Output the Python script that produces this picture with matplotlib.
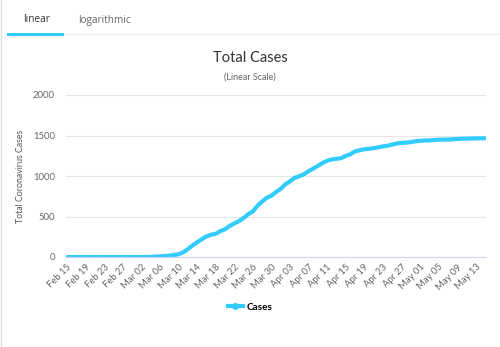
import matplotlib
matplotlib.use("Agg")
import matplotlib.pyplot as plt
from matplotlib.lines import Line2D
import pandas as pd

START_DATE = "2020-02-15"
END_DATE = "2020-05-15"

# total cases per day, Feb 15 .. May 15
cases_feb = [0] * 15
cases_mar = [0, 0, 0, 1, 6, 8, 12, 16, 25, 34, 57, 96, 141, 181, 219, 253,
             275, 286, 319, 341, 383, 414, 442, 480, 528, 562, 632, 684, 730,
             756, 802]
cases_apr = [841, 897, 934, 977, 997, 1021, 1059, 1091, 1124, 1160, 1188,
             1205, 1212, 1220, 1248, 1268, 1304, 1317, 1330, 1335, 1344, 1353,
             1366, 1373, 1388, 1402, 1408, 1412, 1418, 1429]
cases_may = [1434, 1439, 1439, 1445, 1448, 1449, 1450, 1454, 1457, 1460,
             1461, 1463, 1464, 1465, 1466]

dates = pd.date_range(START_DATE, END_DATE)
cases = cases_feb + cases_mar + cases_apr + cases_may
y_ticks = [0, 500, 1000, 1500, 2000]

LINE_COLOR = "#33ccff"
TEXT_GRAY = "#666666"
FONT = ["Lato", "DejaVu Sans"]

plt.rcParams['font.family'] = FONT

fig = plt.figure(figsize=(5.0, 3.47), dpi=100)
W, H = 500, 347

ax = fig.add_axes([66 / W, (H - 257) / H, (486 - 66) / W, (257 - 95) / H])
x = list(range(len(dates)))
ax.plot(x, cases, color=LINE_COLOR, linewidth=3, solid_capstyle="round")

ax.set_xlim(-0.2, len(dates) - 0.8)
ax.set_ylim(0, 2000)
ax.set_yticks(y_ticks)
ax.set_yticklabels([str(v) for v in y_ticks])
tick_idx = list(range(0, len(dates) - 1, 4))
ax.set_xticks(tick_idx)
ax.set_xticklabels([dates[i].strftime("%b %d") for i in tick_idx],
                   rotation=45, ha="right", rotation_mode="anchor")

ax.grid(axis="y", color="#e6e6e6", linewidth=0.8)
ax.set_axisbelow(True)
for side in ["top", "right", "left"]:
    ax.spines[side].set_visible(False)
ax.spines["bottom"].set_color("#ccd6eb")
ax.spines["bottom"].set_linewidth(0.8)
ax.tick_params(axis="y", length=0, labelsize=6.8, colors=TEXT_GRAY, pad=8)
ax.tick_params(axis="x", length=0, labelsize=6.8, colors=TEXT_GRAY, pad=4)
ax.set_ylabel("Total Coronavirus Cases", fontsize=6.3, color="#555555")
ax.yaxis.set_label_coords(-0.098, 0.5)

# titles
fig.text(0.5, 1 - 58 / H, "Total Cases", ha="center", va="center",
         fontsize=10.5, color="#333333")
fig.text(0.5, 1 - 77 / H, "(Linear Scale)", ha="center", va="center",
         fontsize=6.5, color="#666666")

# tabs at the top
fig.text(37 / W, 1 - 20 / H, "linear", ha="center", va="center",
         fontsize=7.2, color="#333333", family=["Open Sans", "DejaVu Sans"])
fig.text(104 / W, 1 - 20 / H, "logarithmic", ha="center", va="center",
         fontsize=7.2, color="#666666", family=["Open Sans", "DejaVu Sans"])
fig.add_artist(Line2D([8 / W, 1.0], [1 - 33.5 / H] * 2, color="#eeeeee",
                      linewidth=0.8, transform=fig.transFigure))
fig.add_artist(Line2D([8 / W, 62 / W], [1 - 33.5 / H] * 2, color=LINE_COLOR,
                      linewidth=2.2, transform=fig.transFigure))
fig.add_artist(Line2D([1 / W, 1 / W], [0, 1], color="#dddddd",
                      linewidth=1, transform=fig.transFigure))

# legend
handle = Line2D([], [], color=LINE_COLOR, linewidth=3, marker="o",
                markersize=4)
fig.legend([handle], ["Cases"], loc="center", bbox_to_anchor=(0.5, 1 - 307 / H),
           frameon=False, handlelength=1.5, handletextpad=0.4,
           prop={"size": 7.2, "weight": "bold", "family": FONT})

fig.savefig("out.png", dpi=100)
